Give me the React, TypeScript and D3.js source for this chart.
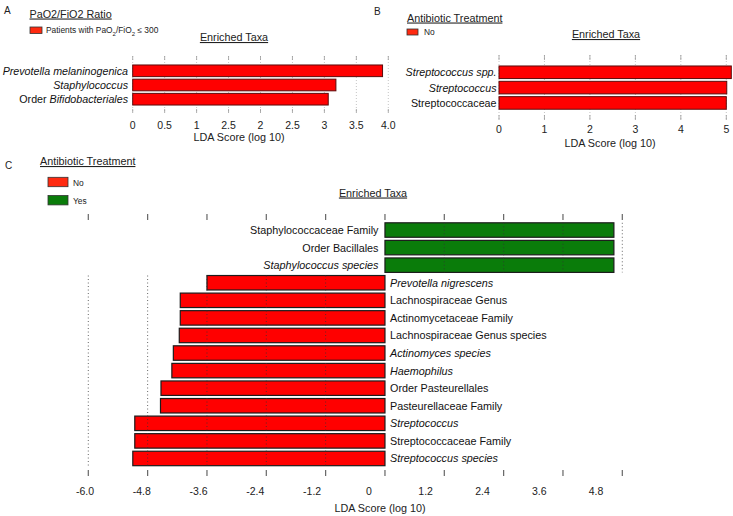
import React from "react";
import * as d3 from "d3";

const FONT = '"Liberation Sans", Arial, Helvetica, sans-serif';

// ---- Panel A data ----
const aTaxa = ["Prevotella melaninogenica", "Staphylococcus", "Order Bifidobacteriales"];
const aScores = [3.91, 3.18, 3.06];
const aTickValues = [0, 0.5, 1, 1.5, 2, 2.5, 3, 3.5, 4];
const aTickLabels = ["0", "0.5", "1", "2.5", "2", "2.5", "3", "3.5", "4.0"];

// ---- Panel B data ----
const bTaxa = ["Streptococcus spp.", "Streptococcus", "Streptococcaceae"];
const bScores = [5.11, 5.01, 5.0];
const bTickValues = [0, 1, 2, 3, 4, 5];
const bTickLabels = ["0", "1", "2", "3", "4", "5"];

// ---- Panel C data ----
const cYesTaxa = ["Staphylococcaceae Family", "Order Bacillales", "Staphylococcus species"];
const cYesScores = [4.63, 4.63, 4.63];
const cNoTaxa = [
  "Prevotella nigrescens",
  "Lachnospiraceae Genus",
  "Actinomycetaceae Family",
  "Lachnospiraceae Genus species",
  "Actinomyces species",
  "Haemophilus",
  "Order Pasteurellales",
  "Pasteurellaceae Family",
  "Streptococcus",
  "Streptococcaceae Family",
  "Streptococcus species",
];
const cNoScores = [-3.6, -4.14, -4.14, -4.16, -4.28, -4.31, -4.53, -4.54, -5.06, -5.06, -5.1];
const cTickValues = [-6, -4.8, -3.6, -2.4, -1.2, 0, 1.2, 2.4, 3.6, 4.8];
const cTickLabels = ["-6.0", "-4.8", "-3.6", "-2.4", "-1.2", "0", "1.2", "2.4", "3.6", "4.8"];

const italicNames = new Set([
  "Prevotella melaninogenica",
  "Staphylococcus",
  "Bifidobacteriales",
  "Streptococcus spp.",
  "Streptococcus",
  "Staphylococcus species",
  "Prevotella nigrescens",
  "Actinomyces species",
  "Haemophilus",
  "Streptococcus species",
]);

const RED = "#ff0000";
const GREEN = "#0a7c0a";

function TaxonLabel(props: { name: string; x: number; y: number; anchor: string; size: number }) {
  const { name, x, y, anchor, size } = props;
  const common = {
    x,
    y,
    textAnchor: anchor as any,
    dominantBaseline: "central" as any,
    fontSize: size,
    fontFamily: FONT,
    fill: "#111",
  };
  if (italicNames.has(name)) {
    return (
      <text {...common} fontStyle="italic">
        {name}
      </text>
    );
  }
  const m = name.match(/^Order (.+)$/);
  if (m && italicNames.has(m[1])) {
    return (
      <text {...common}>
        {"Order "}
        <tspan fontStyle="italic">{m[1]}</tspan>
      </text>
    );
  }
  return <text {...common}>{name}</text>;
}

function Title(props: { x: number; y: number; text: string; anchor?: string; size?: number }) {
  return (
    <text
      x={props.x}
      y={props.y}
      textAnchor={(props.anchor || "start") as any}
      fontSize={props.size || 10.8}
      fontFamily={FONT}
      fill="#222"
      textDecoration="underline"
    >
      {props.text}
    </text>
  );
}

function PanelA() {
  const x = d3.scaleLinear().domain([0, 4]).range([132.7, 388.3]);
  const y = d3.scaleBand<string>().domain(aTaxa).range([63.7, 106.3]).paddingInner(0.18).paddingOuter(0.09);
  return (
    <g>
      <text x={4} y={14} fontSize={10} fontFamily={FONT} fill="#222">A</text>
      <Title x={29.5} y={17.5} text="PaO2/FiO2 Ratio" />
      <rect x={30} y={27} width={12} height={6.5} fill="#ff2a10" stroke="#333" strokeWidth={0.8} />
      <text x={46} y={33} fontSize={8.4} fontFamily={FONT} fill="#222">
        {"Patients with PaO"}
        <tspan fontSize={6} baselineShift="sub">2</tspan>
        <tspan>{"/FiO"}</tspan>
        <tspan fontSize={6} baselineShift="sub">2</tspan>
        <tspan>{" \u2264 300"}</tspan>
      </text>
      <Title x={234} y={41} text="Enriched Taxa" anchor="middle" />
      {aTickValues.map((v) => (
        <g key={v}>
          <line x1={x(v)} x2={x(v)} y1={56} y2={113} stroke="#b8b8b8" strokeWidth={0.8} strokeDasharray="1,2" />
          <line x1={x(v)} x2={x(v)} y1={56} y2={60} stroke="#999" strokeWidth={0.8} />
          <line x1={x(v)} x2={x(v)} y1={109} y2={113} stroke="#999" strokeWidth={0.8} />
        </g>
      ))}
      {aTaxa.map((t, i) => (
        <g key={t}>
          <rect x={x(0)} y={y(t)!} width={x(aScores[i]) - x(0)} height={y.bandwidth()} fill={RED} stroke="#5a0b0b" strokeWidth={1} />
          <TaxonLabel name={t} x={128} y={y(t)! + y.bandwidth() / 2} anchor="end" size={10.7} />
        </g>
      ))}
      {aTickValues.map((v, i) => (
        <text key={v} x={x(v)} y={128.5} textAnchor="middle" fontSize={10.5} fontFamily={FONT} fill="#222">
          {aTickLabels[i]}
        </text>
      ))}
      <text x={239} y={141} textAnchor="middle" fontSize={10.8} fontFamily={FONT} fill="#222">LDA Score (log 10)</text>
    </g>
  );
}

function PanelB() {
  const x = d3.scaleLinear().domain([0, 5]).range([499, 726.3]);
  const y = d3.scaleBand<string>().domain(bTaxa).range([64.6, 110.6]).paddingInner(0.18).paddingOuter(0.09);
  return (
    <g>
      <text x={374} y={15} fontSize={10} fontFamily={FONT} fill="#222">B</text>
      <Title x={407} y={21.5} text="Antibiotic Treatment" />
      <rect x={407} y={29} width={11} height={6} fill="#ff2a10" stroke="#333" strokeWidth={0.8} />
      <text x={424} y={34.5} fontSize={8.4} fontFamily={FONT} fill="#222">No</text>
      <Title x={606} y={38} text="Enriched Taxa" anchor="middle" />
      {bTickValues.map((v) => (
        <g key={v}>
          <line x1={x(v)} x2={x(v)} y1={55} y2={120} stroke="#b8b8b8" strokeWidth={0.8} strokeDasharray="1,2" />
          <line x1={x(v)} x2={x(v)} y1={55} y2={60} stroke="#999" strokeWidth={0.8} />
          <line x1={x(v)} x2={x(v)} y1={115} y2={120} stroke="#999" strokeWidth={0.8} />
        </g>
      ))}
      {bTaxa.map((t, i) => (
        <g key={t}>
          <rect x={x(0)} y={y(t)!} width={x(bScores[i]) - x(0)} height={y.bandwidth()} fill={RED} stroke="#5a0b0b" strokeWidth={1} />
          <TaxonLabel name={t} x={496.5} y={y(t)! + y.bandwidth() / 2} anchor="end" size={10.7} />
        </g>
      ))}
      {bTickValues.map((v, i) => (
        <text key={v} x={x(v)} y={133} textAnchor="middle" fontSize={10.5} fontFamily={FONT} fill="#222">
          {bTickLabels[i]}
        </text>
      ))}
      <text x={610} y={146.5} textAnchor="middle" fontSize={10.8} fontFamily={FONT} fill="#222">LDA Score (log 10)</text>
    </g>
  );
}

function PanelC() {
  const x = d3.scaleLinear().domain([-6, 4.8]).range([88.3, 622.3]);
  const xLabel = d3.scaleLinear().domain([-6, 4.8]).range([85, 596]);
  const allTaxa = [...cYesTaxa, ...cNoTaxa];
  const y = d3.scaleBand<string>().domain(allTaxa).range([221.25, 467.25]).paddingInner(0.177).paddingOuter(0.0885);
  const yesTop = y(cYesTaxa[0])!;
  const yesBottom = y(cYesTaxa[cYesTaxa.length - 1])! + y.bandwidth();
  const noTop = y(cNoTaxa[0])!;
  const noBottom = y(cNoTaxa[cNoTaxa.length - 1])! + y.bandwidth();
  return (
    <g>
      <text x={5} y={169} fontSize={10} fontFamily={FONT} fill="#222">C</text>
      <Title x={40} y={165} text="Antibiotic Treatment" />
      <rect x={48} y={177.3} width={20} height={9.4} fill="#ff2a10" stroke="#333" strokeWidth={0.8} />
      <text x={73} y={185.5} fontSize={8.4} fontFamily={FONT} fill="#222">No</text>
      <rect x={48} y={195.5} width={20} height={9.4} fill={GREEN} stroke="#333" strokeWidth={0.8} />
      <text x={73} y={203.5} fontSize={8.4} fontFamily={FONT} fill="#222">Yes</text>
      <Title x={373} y={196.5} text="Enriched Taxa" anchor="middle" />

      {cYesTaxa.map((t, i) => (
        <g key={t}>
          <rect x={x(0)} y={y(t)!} width={x(cYesScores[i]) - x(0)} height={y.bandwidth()} fill={GREEN} stroke="#1c1c1c" strokeWidth={1.2} />
          <TaxonLabel name={t} x={378.5} y={y(t)! + y.bandwidth() / 2} anchor="end" size={10.8} />
        </g>
      ))}
      {cNoTaxa.map((t, i) => (
        <g key={t}>
          <rect x={x(cNoScores[i])} y={y(t)!} width={x(0) - x(cNoScores[i])} height={y.bandwidth()} fill={RED} stroke="#1c1c1c" strokeWidth={1.2} />
          <TaxonLabel name={t} x={390} y={y(t)! + y.bandwidth() / 2} anchor="start" size={10.8} />
        </g>
      ))}

      {cTickValues.map((v) =>
        v === 0 ? null : (
          <line
            key={"g" + v}
            x1={x(v)}
            x2={x(v)}
            y1={v < 0 ? noTop : yesTop}
            y2={v < 0 ? noBottom : yesBottom}
            stroke="#333"
            strokeOpacity={0.75}
            strokeWidth={1}
            strokeDasharray="1,2.5"
          />
        )
      )}
      {cTickValues.map((v) => (
        <g key={"t" + v}>
          <line x1={x(v)} x2={x(v)} y1={214} y2={220} stroke="#666" strokeWidth={1.2} />
          <line x1={x(v)} x2={x(v)} y1={470} y2={476} stroke="#666" strokeWidth={1.2} />
        </g>
      ))}
      {cTickValues.map((v, i) => (
        <text key={"l" + v} x={xLabel(v)} y={495} textAnchor="middle" fontSize={10.5} fontFamily={FONT} fill="#222">
          {cTickLabels[i]}
        </text>
      ))}
      <text x={380} y={512} textAnchor="middle" fontSize={10.8} fontFamily={FONT} fill="#222">LDA Score (log 10)</text>
    </g>
  );
}

export default function App() {
  return (
    <svg
      width={733}
      height={516}
      viewBox="0 0 733 516"
      style={{ position: "absolute", left: 0, top: 0, background: "#fff" }}
    >
      <rect x={0} y={0} width={733} height={516} fill="#fff" />
      <PanelA />
      <PanelB />
      <PanelC />
    </svg>
  );
}
